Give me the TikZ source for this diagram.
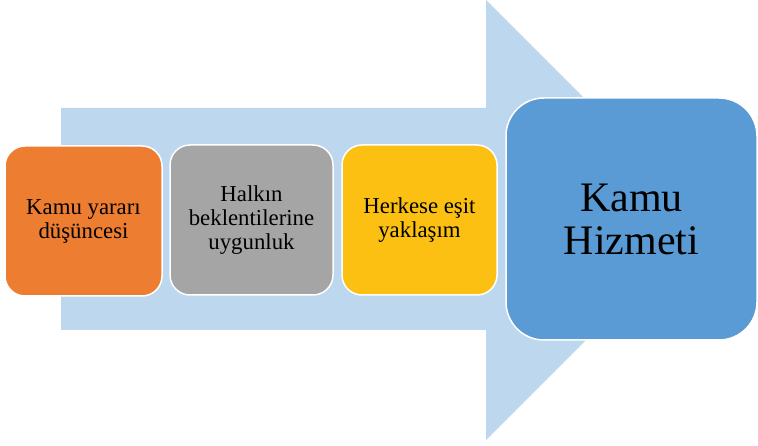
\documentclass[tikz,border=0pt]{standalone}
\usepackage{fontspec}
\setmainfont{Liberation Serif}
\definecolor{okblue}{HTML}{BDD7EE}
\definecolor{kutuTuruncu}{HTML}{ED7D31}
\definecolor{kutuGri}{HTML}{A5A5A5}
\definecolor{kutuSari}{HTML}{FBC012}
\definecolor{kutuMavi}{HTML}{5B9BD5}

\begin{document}
\begin{tikzpicture}[x=1pt,y=-1pt,
    kutu/.style={draw=white,line width=1.5pt,rounded corners=20pt,align=center,
        minimum height=150pt,inner sep=2pt,
        font=\fontsize{22.8}{24}\selectfont},
    buyukkutu/.style={kutu,rounded corners=38pt,minimum width=251pt,minimum height=242pt,
        fill=kutuMavi,font=\fontsize{42}{43}\selectfont}]
    \useasboundingbox (0,0) rectangle (758,446);

    % arka plandaki ok
    \fill[okblue] (61,108) -- (486,108) -- (486,0) -- (706,220)
        -- (486,440) -- (486,330) -- (61,330) -- cycle;

    \node[kutu,fill=kutuTuruncu,minimum width=157pt] (yarar) at (83.5,221)
        {Kamu yararı\\düşüncesi};
    \node[kutu,fill=kutuGri,minimum width=163pt] (beklenti) at (251.5,220)
        {Halkın\\beklentilerine\\uygunluk};
    \node[kutu,fill=kutuSari,minimum width=155pt] (esitlik) at (419.5,220)
        {Herkese eşit\\yaklaşım};

    \node[buyukkutu] (hizmet) at (631.5,219) {Kamu\\Hizmeti};
\end{tikzpicture}
\end{document}
